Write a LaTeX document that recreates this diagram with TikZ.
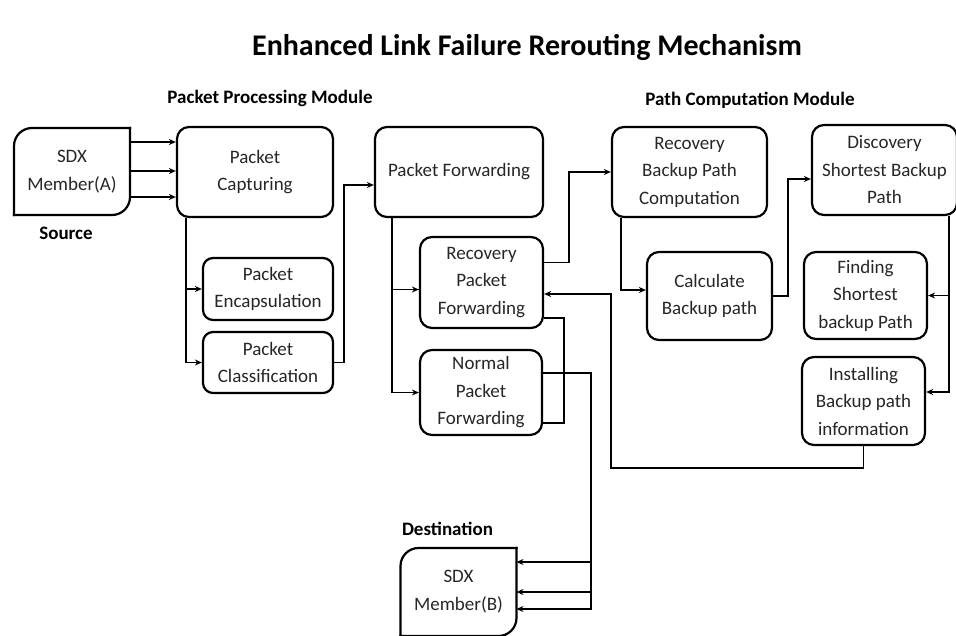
\documentclass[tikz,border=0pt]{standalone}
\usepackage{fontspec}
\setmainfont{Carlito}
\usetikzlibrary{positioning, arrows.meta, calc}

\begin{document}
\begin{tikzpicture}[x=1pt, y=-1pt,
  box/.style={draw, line width=2.2pt, rounded corners=12pt, align=center, inner sep=2pt, text=black!85, font=\fontsize{19}{27.5}\selectfont},
  sdx/.style={align=center, outer sep=0pt, minimum width=116pt, minimum height=87pt, text=black!85, font=\fontsize{19}{28}\selectfont},
  sdxline/.style={line width=2.2pt, rounded corners=18pt, line cap=rect},
  mod/.style={font=\fontsize{19}{22}\selectfont\bfseries},
  lbl/.style={font=\fontsize{19}{21}\selectfont\bfseries},
  arr/.style={line width=1.8pt, -{Stealth[length=7pt,width=6pt]}},
  link/.style={line width=1.8pt}]
\useasboundingbox (0,0) rectangle (956,635);
\node[font=\fontsize{30}{33}\selectfont\bfseries] (title) at (527,47) {Enhanced Link Failure Rerouting Mechanism};
\node[mod] (ppm) at (270,98) {Packet Processing Module};
\node[mod] (pcm) at (750,100) {Path Computation Module};
% source and destination members
\node[sdx] (srcA) at (72,171.5) {SDX\\Member(A)};
\draw[sdxline] (srcA.south west) -- (srcA.north west) -- (srcA.north east);
\draw[sdxline] (srcA.north east) -- (srcA.south east) -- (srcA.south west);
\node[lbl, below=9pt of srcA.south, xshift=-6pt] (srcLbl) {Source};
\node[sdx, minimum height=88pt] (dstB) at (458.5,592) {SDX\\Member(B)};
\draw[sdxline] (dstB.south west) -- (dstB.north west) -- (dstB.north east);
\draw[sdxline] (dstB.north east) -- (dstB.south east) -- (dstB.south west);
\node[lbl, above=9pt of dstB.north, xshift=-11pt] (dstLbl) {Destination};
% packet processing
\node[box, minimum width=156pt, minimum height=90pt] (cap) at (255,172) {Packet\\Capturing};
\node[box, minimum width=130pt, minimum height=62pt, rounded corners=10pt] (enc) at (268,289) {Packet\\Encapsulation};
\node[box, minimum width=130pt, minimum height=61pt, rounded corners=10pt] (cls) at (268,362.5) {Packet\\Classification};
\node[box, minimum width=168pt, minimum height=90pt] (fwd) at (459,172) {Packet Forwarding};
\node[box, minimum width=123pt, minimum height=91pt] (rpf) at (481.5,282.5) {Recovery\\Packet\\Forwarding};
\node[box, minimum width=122pt, minimum height=85pt] (npf) at (481,392.5) {Normal\\Packet\\Forwarding};
% path computation
\node[box, minimum width=155pt, minimum height=90pt] (rbpc) at (689.5,172) {Recovery\\Backup Path\\Computation};
\node[box, minimum width=125pt, minimum height=88pt] (calc) at (709.5,296) {Calculate\\Backup path};
\node[box, minimum width=145pt, minimum height=90pt] (disc) at (884.5,170) {Discovery\\Shortest Backup\\Path};
\node[box, minimum width=123pt, minimum height=87pt] (find) at (865.5,295.5) {Finding\\Shortest\\backup Path};
\node[box, minimum width=123pt, minimum height=88pt] (inst) at (863.5,401) {Installing\\Backup path\\information};
% connectors
\foreach \dy in {29.5,0.5,-25.5}
  \draw[arr] ([yshift=\dy pt]srcA.east) coordinate (s) -- (s -| cap.west);
\draw[arr] ([xshift=10pt]cap.south west) coordinate (c) |- (cls.west);
\draw[arr] (c |- enc.west) -- (enc.west);
\draw[arr] (cls.east) -- ++(10,0) |- ([yshift=-13pt]fwd.west);
\draw[arr] ([xshift=18pt]fwd.south west) coordinate (f) |- (npf.west);
\draw[arr] ([yshift=-7pt]rpf.west) coordinate (r) -- (r -| f) -- (r);
\draw[arr] ([yshift=20pt]rpf.east) -- ++(25,0) |- (rbpc.west);
\draw[link] ([yshift=-35.5pt]rpf.east) -- ++(20,0) |- ([yshift=-30.5pt]npf.east);
\draw[arr] ([yshift=19.5pt]npf.east) -- ++(48,0) coordinate (n) |- ([yshift=-17pt]dstB.east);
\foreach \dy in {30,0}{
  \path ([yshift=\dy pt]dstB.east) coordinate (d);
  \draw[arr] (d -| n) -- (d);
}
\draw[arr] ([xshift=10pt]rbpc.south west) |- ([yshift=6pt]calc.west);
\draw[arr] (calc.east) -- ++(15,0) |- ([yshift=-9pt]disc.west);
\draw[arr] ([xshift=-9pt]disc.south east) coordinate (dd) |- ([yshift=9pt]inst.east);
\draw[arr] (dd |- find.east) -- (find.east);
\coordinate (fb) at (611,468);
\draw[arr] (inst.south) |- (fb) |- ([yshift=-11.5pt]rpf.east);
\end{tikzpicture}
\end{document}
